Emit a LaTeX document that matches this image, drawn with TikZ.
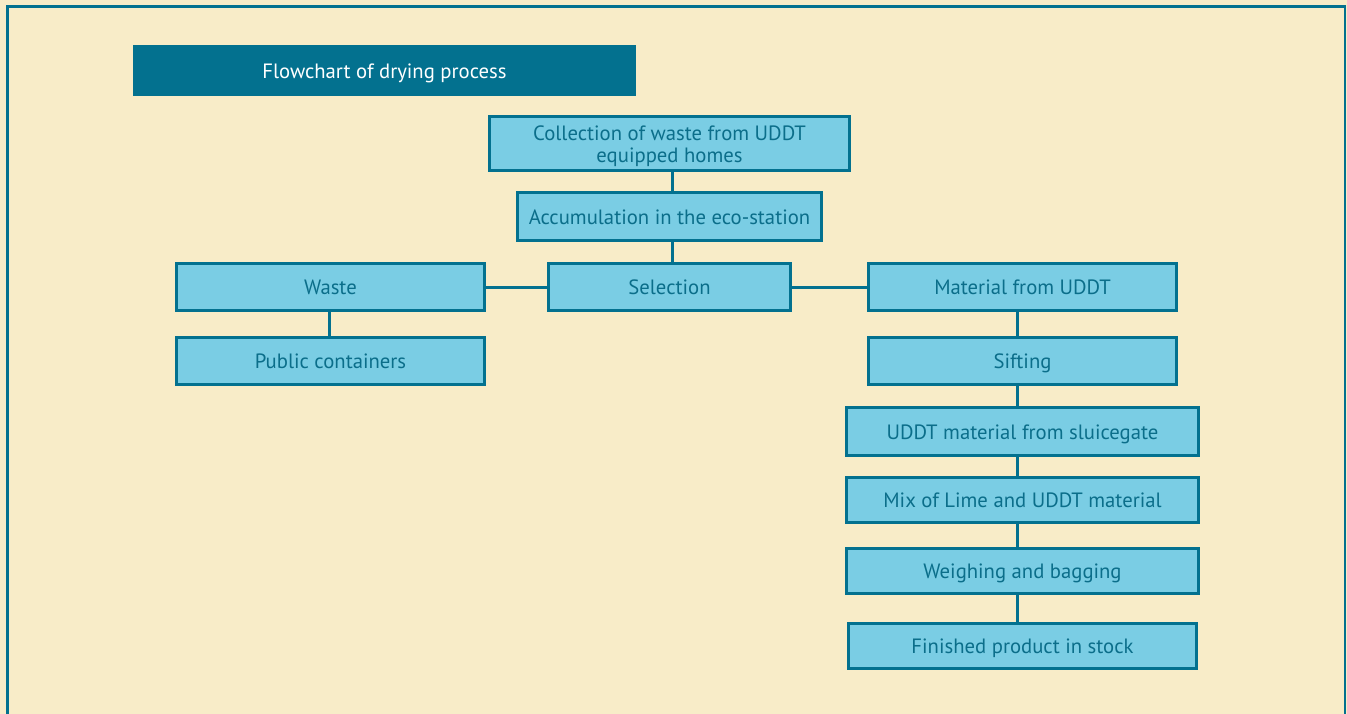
\documentclass[tikz,border=0pt]{standalone}
\usepackage{fontspec}
\setmainfont{PT Sans}
\definecolor{tealc}{HTML}{03718F}
\definecolor{boxfill}{HTML}{7ACDE4}
\definecolor{bgc}{HTML}{F8ECC8}
\definecolor{txtc}{HTML}{0B6E8A}
\begin{document}
\begin{tikzpicture}[x=1pt,y=-1pt,
  box/.style={draw=tealc, fill=boxfill, line width=3pt, inner sep=0pt, text=txtc,
    font=\fontsize{20.7}{22}\selectfont, align=center, minimum height=47pt,
    text height=20pt, text depth=4.5pt},
  link/.style={draw=tealc, line width=3pt}]
\useasboundingbox (0,0) rectangle (1347,714);
\fill[bgc] (0,0) rectangle (1347,714);
\draw[tealc, line width=2.5pt] (7.5,740) -- (7.5,6.5) -- (1345,6.5) -- (1345,740);
\node[fill=tealc, minimum width=503pt, minimum height=51pt, inner sep=0pt, text=white,
  font=\fontsize{20.7}{22}\selectfont, text height=20pt, text depth=4.5pt] (title) at (384.5,70.5) {Flowchart of drying process};
\node[box, minimum width=360pt, minimum height=54pt, text height=42pt, text depth=3.5pt] (coll) at (669.5,143.5) {Collection of waste from UDDT\\equipped homes};
\node[box, minimum width=304pt, minimum height=48pt] (acc) at (669.5,216.5) {Accumulation in the eco-station};
\node[box, minimum width=308pt] (waste) at (330.5,287) {Waste};
\node[box, minimum width=242pt] (sel) at (669.5,287) {Selection};
\node[box, minimum width=308pt] (mat) at (1022.5,287) {Material from UDDT};
\node[box, minimum width=308pt] (pub) at (330.5,361) {Public containers};
\node[box, minimum width=308pt] (sift) at (1022.5,361) {Sifting};
\node[box, minimum width=352pt, minimum height=48pt] (sluice) at (1022.5,431.5) {UDDT material from sluicegate};
\node[box, minimum width=352pt, minimum height=45pt] (mix) at (1022.5,500) {Mix of Lime and UDDT material};
\node[box, minimum width=352pt, minimum height=45pt] (weigh) at (1022.5,571) {Weighing and bagging};
\node[box, minimum width=348pt, minimum height=45pt] (fin) at (1022.5,646) {Finished product in stock};
\draw[link] ([xshift=2.5pt]coll.south) -- ([xshift=2.5pt]acc.north);
\draw[link] ([xshift=2.5pt]acc.south) -- ([xshift=2.5pt]sel.north);
\draw[link] (waste.east) -- (sel.west);
\draw[link] (sel.east) -- (mat.west);
\draw[link] ([xshift=-1.5pt]waste.south) -- ([xshift=-1.5pt]pub.north);
\draw[link] ([xshift=-5.5pt]mat.south) -- ([xshift=-5.5pt]sift.north);
\draw[link] ([xshift=-5.5pt]sift.south) -- ([xshift=-5.5pt]sluice.north);
\draw[link] ([xshift=-5.5pt]sluice.south) -- ([xshift=-5.5pt]mix.north);
\draw[link] ([xshift=-5.5pt]mix.south) -- ([xshift=-5.5pt]weigh.north);
\draw[link] ([xshift=-5.5pt]weigh.south) -- ([xshift=-5.5pt]fin.north);
\end{tikzpicture}
\end{document}
